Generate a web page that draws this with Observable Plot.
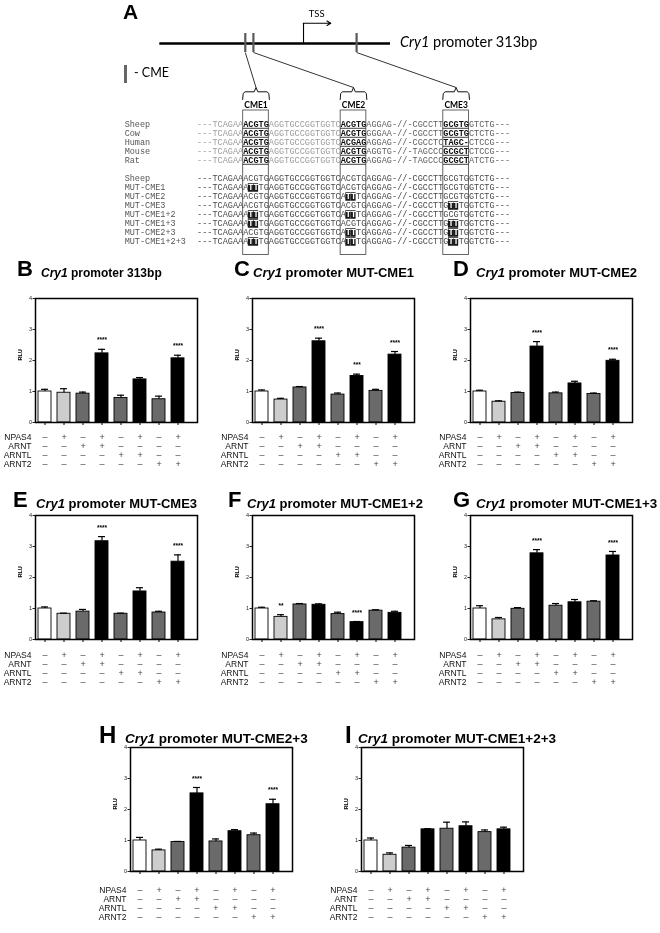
<!DOCTYPE html>
<html><head><meta charset="utf-8">
<script src="https://cdn.jsdelivr.net/npm/d3@7"></script>
<script src="https://cdn.jsdelivr.net/npm/@observablehq/plot@0.6"></script>
<style>
body{margin:0;background:#fff}
#fig{position:relative;width:660px;height:933px;overflow:hidden;background:#fff;font-family:"Liberation Sans",Arial,sans-serif;color:#000}
#fig svg{position:absolute;overflow:visible;will-change:transform}
</style></head><body><div id="fig"></div>
<script>
// ---------------- DATA ----------------
// Panel A: promoter schematic
const promoterLengthBp = 313;
const tssBp = 195;
const cmeNames = ["CME1", "CME2", "CME3"];
const cmeBp = [116, 127, 267];          // position of each CME on the promoter (bp)
const cmeStartCol = [9, 28, 48];        // first alignment column of each CME
const cmeLength = 5;

// Panel A: species alignment
const speciesNames = ["Sheep", "Cow", "Human", "Mouse", "Rat"];
const speciesSeqs = [
  "---TCAGAAACGTGAGGTGCCGGTGGTCACGTGAGGAG-//-CGCCTTGCGTGGTCTG---",
  "---TCAGAAACGTGAGGTGCCGGTGGTCACGTGGGGAA-//-CGCCTTGCGTGCTCTG---",
  "---TCAGAAACGTGAGGTGCCGGTGGTCACGAGAGGAG-//-CGCCTCTAGC-CTCCG---",
  "---TCAGAAACGTGAGGTGCCGGTGGTCACGTGAGGTG-//-TAGCCCGCGCTCTCCG---",
  "---TCAGAAACGTGAGGTGCCGGTGGTCACGTGAGGAG-//-TAGCCCGCGCTATCTG---"
];
// Panel A: mutant constructs
const mutantNames = ["Sheep", "MUT-CME1", "MUT-CME2", "MUT-CME3", "MUT-CME1+2", "MUT-CME1+3", "MUT-CME2+3", "MUT-CME1+2+3"];
const mutantSeqs = [
  "---TCAGAAACGTGAGGTGCCGGTGGTCACGTGAGGAG-//-CGCCTTGCGTGGTCTG---",
  "---TCAGAAATTTGAGGTGCCGGTGGTCACGTGAGGAG-//-CGCCTTGCGTGGTCTG---",
  "---TCAGAAACGTGAGGTGCCGGTGGTCATTTGAGGAG-//-CGCCTTGCGTGGTCTG---",
  "---TCAGAAACGTGAGGTGCCGGTGGTCACGTGAGGAG-//-CGCCTTGTTTGGTCTG---",
  "---TCAGAAATTTGAGGTGCCGGTGGTCATTTGAGGAG-//-CGCCTTGCGTGGTCTG---",
  "---TCAGAAATTTGAGGTGCCGGTGGTCACGTGAGGAG-//-CGCCTTGTTTGGTCTG---",
  "---TCAGAAACGTGAGGTGCCGGTGGTCATTTGAGGAG-//-CGCCTTGTTTGGTCTG---",
  "---TCAGAAATTTGAGGTGCCGGTGGTCATTTGAGGAG-//-CGCCTTGTTTGGTCTG---"
];

// Panels B-I: luciferase assays
const conditions = ["1", "2", "3", "4", "5", "6", "7", "8"];
const factors = ["NPAS4", "ARNT", "ARNTL", "ARNT2"];
const npas4 = ["-", "+", "-", "+", "-", "+", "-", "+"];
const arnt  = ["-", "-", "+", "+", "-", "-", "-", "-"];
const arntl = ["-", "-", "-", "-", "+", "+", "-", "-"];
const arnt2 = ["-", "-", "-", "-", "-", "-", "+", "+"];
const barShade = ["open", "light", "dark", "solid", "dark", "solid", "dark", "solid"];
const shadeNames = ["open", "light", "dark", "solid"];
const yTicks = [0, 1, 2, 3, 4];

const panelLetters = ["B", "C", "D", "E", "F", "G", "H", "I"];
const panelConstructs = ["313bp", "MUT-CME1", "MUT-CME2", "MUT-CME3", "MUT-CME1+2", "MUT-CME1+3", "MUT-CME2+3", "MUT-CME1+2+3"];

const rluB = [1.00, 0.96, 0.93, 2.23, 0.79, 1.39, 0.75, 2.07];
const semB = [0.07, 0.13, 0.05, 0.13, 0.09, 0.06, 0.10, 0.10];
const sigB = ["", "", "", "****", "", "", "", "****"];
const rluC = [1.00, 0.74, 1.13, 2.62, 0.90, 1.50, 1.02, 2.19];
const semC = [0.05, 0.04, 0.03, 0.10, 0.05, 0.06, 0.05, 0.10];
const sigC = ["", "", "", "****", "", "***", "", "****"];
const rluD = [1.00, 0.67, 0.95, 2.45, 0.94, 1.26, 0.92, 1.99];
const semD = [0.04, 0.03, 0.03, 0.16, 0.04, 0.07, 0.03, 0.05];
const sigD = ["", "", "", "****", "", "", "", "****"];
const rluE = [1.00, 0.83, 0.90, 3.17, 0.83, 1.55, 0.87, 2.51];
const semE = [0.05, 0.02, 0.07, 0.15, 0.02, 0.12, 0.04, 0.22];
const sigE = ["", "", "", "****", "", "", "", "****"];
const rluF = [1.00, 0.73, 1.13, 1.12, 0.82, 0.56, 0.93, 0.86];
const semF = [0.04, 0.07, 0.03, 0.03, 0.06, 0.02, 0.03, 0.05];
const sigF = ["", "**", "", "", "", "****", "", ""];
const rluG = [1.00, 0.65, 0.99, 2.78, 1.09, 1.20, 1.22, 2.71];
const semG = [0.09, 0.06, 0.04, 0.12, 0.07, 0.09, 0.03, 0.13];
const sigG = ["", "", "", "****", "", "", "", "****"];
const rluH = [1.00, 0.68, 0.95, 2.52, 0.97, 1.30, 1.17, 2.17];
const semH = [0.10, 0.04, 0.02, 0.19, 0.08, 0.05, 0.07, 0.16];
const sigH = ["", "", "", "****", "", "", "", "****"];
const rluI = [1.00, 0.54, 0.77, 1.36, 1.38, 1.46, 1.27, 1.36];
const semI = [0.08, 0.06, 0.07, 0.02, 0.21, 0.14, 0.07, 0.07];
const sigI = ["", "", "", "", "", "", "", ""];

// ---------------- STYLE / LAYOUT ----------------
const shadeColors = ["#ffffff", "#cdcdcd", "#6a6a6a", "#000000"];
const MONO = "Liberation Mono, DejaVu Sans Mono, monospace";
const SANS = "Liberation Sans, Arial, sans-serif";
const SOFT = "Lato, Open Sans, sans-serif";
const fig = document.getElementById("fig");

function put(node, left, top) {
  node.style.left = Math.round(left) + "px"; node.style.top = Math.round(top) + "px";
  fig.appendChild(node);
}
function label(html, x, baseline, size, css = "", ratio = 0.847) {
  const d = document.createElement("div");
  d.innerHTML = html;
  d.style.cssText = `position:absolute;left:${x}px;top:${baseline - ratio * size}px;font-size:${size}px;line-height:1;white-space:nowrap;${css}`;
  fig.appendChild(d);
}

// ---------------- PANEL A ----------------
const colRange = {domain: [0, 61], range: [196.5, 509.5]};
const bpToCol = d3.scaleLinear([0, promoterLengthBp], [-7.25, 37.71]);
const nameCol = -14.1;
const cmeIdx = cmeNames.map((_, i) => i);

const bracketPts = cmeIdx.flatMap(k => {
  const s = cmeStartCol[k], e = s + cmeLength, c = s + cmeLength / 2;
  return [[s - 0.1, 99], [s, 93], [s + 0.35, 91.3], [c - 0.35, 91.3], [c, 87], [c + 0.35, 91.3], [e - 0.35, 91.3], [e, 93], [e + 0.1, 99]]
    .map(([x, y]) => ({k, x, y}));
});

const schematic = Plot.plot({
  width: 660, height: 260, margin: 0,
  x: {...colRange, axis: null},
  y: {type: "identity", axis: null},
  style: {background: "transparent"},
  marks: [
    Plot.ruleY([43], {x1: bpToCol(0), x2: bpToCol(promoterLengthBp), stroke: "#000", strokeWidth: 2.6}),
    Plot.ruleX(cmeBp, {x: d => bpToCol(d), y1: 33, y2: 52, stroke: "#5a5a5a", strokeWidth: 2.2}),
    Plot.link(cmeIdx, {x1: k => bpToCol(cmeBp[k]), y1: 52, x2: k => cmeStartCol[k] + cmeLength / 2, y2: 87, stroke: "#333", strokeWidth: 1}),
    Plot.line(bracketPts, {x: "x", y: "y", z: "k", stroke: "#111", strokeWidth: 1}),
    Plot.text(cmeNames, {x: (d, i) => cmeStartCol[i] + cmeLength / 2, y: 105, text: d => d, fontFamily: SOFT, fontWeight: "bold", fontSize: 8.5}),
    Plot.rect(cmeStartCol, {x1: s => s, x2: s => s + cmeLength, y1: 110, y2: 254.5, fill: "none", stroke: "#555", strokeWidth: 0.9}),
    Plot.line([{x: bpToCol(tssBp), y: 43}, {x: bpToCol(tssBp), y: 22.7}], {x: "x", y: "y", stroke: "#000", strokeWidth: 1.1}),
    Plot.arrow([tssBp], {x1: d => bpToCol(d), y1: 22.7, x2: d => bpToCol(d + 37), y2: 22.7, stroke: "#000", strokeWidth: 1.1, headLength: 6, bend: 0}),
    Plot.text(["TSS"], {x: bpToCol(tssBp + 7), y: 13.5, text: d => d, textAnchor: "start", fontFamily: SOFT, fontSize: 9.5})
  ]
});
put(schematic, 0, 0);

const rowKeys = [...speciesNames.map((_, r) => "a" + r), "gap", ...mutantNames.map((_, r) => "m" + r)];
const inCme = i => cmeStartCol.some(s => i >= s && i < s + cmeLength);
const chars1 = speciesSeqs.flatMap((seq, r) => [...seq].map((ch, i) => ({row: "a" + r, i, ch, cme: inCme(i)})));
const chars2 = mutantSeqs.flatMap((seq, r) => [...seq].map((ch, i) => ({row: "m" + r, i, ch, mut: ch !== mutantSeqs[0][i]})));
const rowNames = [...speciesNames.map((n, r) => ({row: "a" + r, name: n})), ...mutantNames.map((n, r) => ({row: "m" + r, name: n}))];
const underlines = speciesNames.flatMap((_, r) => cmeStartCol.map(s => ({row: "a" + r, s})));

const alignment = Plot.plot({
  width: 660, height: 260, margin: 0,
  x: {...colRange, axis: null},
  y: {type: "point", domain: rowKeys, range: [115.2, 249.5], axis: null},
  color: {type: "identity"},
  style: {background: "transparent"},
  marks: [
    Plot.text(rowNames, {x: () => nameCol, y: "row", text: "name", textAnchor: "start", fontFamily: MONO, fontSize: 8.5, fill: "#555"}),
    Plot.text(chars1.filter(d => !d.cme), {x: d => d.i + 0.5, y: "row", text: "ch", fontFamily: MONO, fontSize: 8.5, fill: d => d.i < 28 ? "#9c9c9c" : "#5e5e5e"}),
    Plot.text(chars1.filter(d => d.cme), {x: d => d.i + 0.5, y: "row", text: "ch", fontFamily: MONO, fontSize: 8.5, fontWeight: "bold", fill: "#111"}),
    Plot.ruleY(underlines, {y: "row", x1: d => d.s, x2: d => d.s + cmeLength, dy: 3.8, stroke: "#111", strokeWidth: 0.8}),
    Plot.ruleY(chars2.filter(d => d.mut), {y: "row", x1: d => d.i, x2: d => d.i + 1, stroke: "#1a1a1a", strokeWidth: 8.5}),
    Plot.text(chars2.filter(d => !d.mut), {x: d => d.i + 0.5, y: "row", text: "ch", fontFamily: MONO, fontSize: 8.5, fill: "#4a4a4a"}),
    Plot.text(chars2.filter(d => d.mut), {x: d => d.i + 0.5, y: "row", text: "ch", fontFamily: MONO, fontSize: 8.5, fill: "#ffffff", fontWeight: "bold"})
  ]
});
put(alignment, 0, 0);

label("A", 123, 18.3, 21, "font-weight:bold;font-family:" + SANS);
label("<i>Cry1</i> promoter 313bp", 400, 48, 14.5, "font-family:" + SOFT, 0.887);
const legendBar = document.createElement("div");
legendBar.style.cssText = "position:absolute;left:124px;top:65px;width:2.5px;height:18px;background:#666";
fig.appendChild(legendBar);
label("- CME", 134, 78.5, 12.5, "font-family:" + SOFT, 0.887);

// ---------------- PANELS B-I ----------------
const FW = 162, FH = 124;
const geo = {
  B: {L: 35,  T: 298, lx: 17,  tx: 41,  base: 277, gap: 10,   step: 12,   ts: 12,   ls: 22},
  C: {L: 252, T: 298, lx: 234, tx: 253, base: 277, gap: 10,   step: 12,   ts: 13,   ls: 22},
  D: {L: 470, T: 298, lx: 453, tx: 476, base: 277, gap: 10,   step: 12,   ts: 13,   ls: 22},
  E: {L: 35,  T: 515, lx: 13,  tx: 36,  base: 508, gap: 11,   step: 12,   ts: 13,   ls: 22},
  F: {L: 252, T: 515, lx: 228, tx: 247, base: 508, gap: 11,   step: 12,   ts: 13,   ls: 22},
  G: {L: 470, T: 515, lx: 453, tx: 476, base: 508, gap: 11,   step: 12,   ts: 13.4, ls: 22},
  H: {L: 130, T: 747, lx: 99,  tx: 125, base: 743, gap: 12.5, step: 12.8, ts: 13.5, ls: 24},
  I: {L: 361, T: 747, lx: 345, tx: 358, base: 743, gap: 12.5, step: 12.8, ts: 13.5, ls: 24}
};
const series = {
  B: [rluB, semB, sigB], C: [rluC, semC, sigC], D: [rluD, semD, sigD], E: [rluE, semE, sigE],
  F: [rluF, semF, sigF], G: [rluG, semG, sigG], H: [rluH, semH, sigH], I: [rluI, semI, sigI]
};
const signs = [npas4, arnt, arntl, arnt2];
const signTable = factors.flatMap((f, j) => conditions.map((c, i) => ({factor: f, cond: c, sign: signs[j][i]})));

function xBand(left) {
  return {type: "band", domain: conditions, range: [left, left + 151], paddingInner: 0.316, paddingOuter: 0.13, axis: null};
}

panelLetters.forEach((key, p) => {
  const g = geo[key];
  const [rlu, sem, sig] = series[key];
  const data = conditions.map((c, i) => ({c, v: rlu[i], e: sem[i], s: sig[i], shade: barShade[i]}));
  const mL = 30, mT = 6, mR = 3, mB = 5;
  const chart = Plot.plot({
    width: mL + FW + mR, height: mT + FH + mB,
    marginLeft: mL, marginTop: mT, marginRight: mR, marginBottom: mB,
    x: xBand(mL),
    y: {domain: [0, 4], range: [mT + FH, mT], axis: null},
    color: {domain: shadeNames, range: shadeColors},
    style: {background: "transparent", fontFamily: SANS},
    marks: [
      Plot.barY(data, {x: "c", y: "v", fill: "shade", stroke: "#000", strokeWidth: 0.9}),
      Plot.ruleX(data, {x: "c", y1: "v", y2: d => d.v + d.e, stroke: "#000", strokeWidth: 1.2}),
      Plot.tickY(data, {x: "c", y: d => d.v + d.e, insetLeft: 3, insetRight: 3, stroke: "#000", strokeWidth: 1.2}),
      Plot.text(data.filter(d => d.s), {x: "c", y: d => d.v + d.e, text: "s", dy: -9, fontSize: 6.5, fontWeight: "bold"}),
      Plot.frame({stroke: "#000", strokeWidth: 1.5}),
      Plot.axisY({ticks: yTicks, tickFormat: "d", tickSize: 2.5, tickPadding: 1, fontSize: 5.5, label: null, color: "#222"}),
      Plot.axisX({tickSize: 3, tickFormat: () => "", label: null}),
      Plot.text(["RLU"], {frameAnchor: "left", dx: -15, rotate: -90, text: d => d, fontSize: 5.5, fontWeight: "bold"})
    ]
  });
  put(chart, g.L - mL, g.T - mT);

  const tL = 40, tT = 7;
  const table = Plot.plot({
    width: tL + FW + 3, height: tT * 2 + 3 * g.step,
    marginLeft: tL, marginTop: tT, marginRight: 3, marginBottom: tT,
    x: xBand(tL),
    y: {type: "point", domain: factors, range: [tT, tT + 3 * g.step], axis: null},
    style: {background: "transparent", fontFamily: SANS},
    marks: [
      Plot.text(signTable, {x: "cond", y: "factor", text: d => d.sign === "+" ? "+" : "\u2013", fontSize: 9, fill: "#444"}),
      Plot.axisY({tickSize: 0, tickPadding: 4, fontSize: 8.5, label: null, color: "#111"})
    ]
  });
  put(table, g.L - tL, g.T + FH + g.gap - tT);

  label(key, g.lx, g.base, g.ls, "font-weight:bold;font-family:" + SANS);
  label(`<i>Cry1</i> promoter ${panelConstructs[p]}`, g.tx, g.base, g.ts, "font-weight:bold;font-family:" + SANS);
});
</script></body></html>
